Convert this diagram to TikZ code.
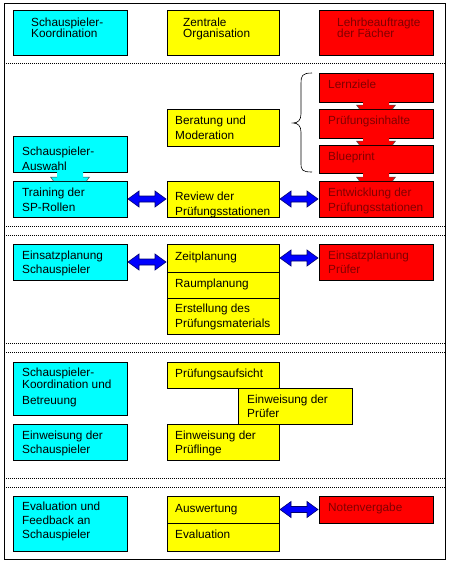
\documentclass[tikz,border=0pt]{standalone}
\usepackage{fontspec}
\setmainfont{Liberation Sans}
\usetikzlibrary{calc}
\definecolor{cy}{RGB}{0,255,255}
\definecolor{ye}{RGB}{255,255,0}
\definecolor{rd}{RGB}{255,0,0}
\definecolor{dred}{RGB}{128,0,0}
\definecolor{bl}{RGB}{0,0,255}
\definecolor{nav}{RGB}{0,0,110}
\newcommand\mybox[6]{\node[box,fill=#2,minimum width={(#5-#3)*1pt},minimum height={(#6-#4)*1pt}] (#1) at (#3,#4) {};}
\newcommand\dblarrow[2]{%
 \draw[barrow] ($(#1.east)+(1,0)$) -- ++(11,-8) -- ++(0,5) -- ($(#2.west |- #1.east)+(-12,-3)$) -- ++(0,-5) -- ($(#2.west |- #1.east)+(-1,0)$) -- ++(-11,8) -- ++(0,-5) -- ($(#1.east)+(12,3)$) -- ++(0,5) -- cycle;}
\newcommand\notch[3]{%
 \fill[#3] ($(#1.south)+(-13,-0.6)$) -- ($(#2.north)+(-13,-4)$) -- ($(#2.north)+(-19.5,-4)$) -- ($(#2.north)+(-16.5,0)$) -- ($(#2.north)+(16.5,0)$) -- ($(#2.north)+(19.5,-4)$) -- ($(#2.north)+(13,-4)$) -- ($(#1.south)+(13,-0.6)$) -- cycle;
 \draw[notchline] ($(#2.north)+(-13,-4)$) -- ($(#2.north)+(-19.5,-4)$) -- ($(#2.north)+(-16.5,0)$);
 \draw[notchline] ($(#2.north)+(13,-4)$) -- ($(#2.north)+(19.5,-4)$) -- ($(#2.north)+(16.5,0)$);}
\begin{document}
\begin{tikzpicture}[x=1pt,y=-1pt,
 box/.style={draw=black,line width=0.8pt,inner sep=0pt,outer sep=0pt,anchor=north west,rectangle},
 txt/.style={anchor=north west,inner sep=0pt,align=left,font=\fontsize{11.8}{15}\selectfont},
 rtxt/.style={txt,text=dred},
 dotsep/.style={line width=0.8pt,dash pattern=on 0.8pt off 1.2pt},
 barrow/.style={fill=bl,draw=nav,line width=0.6pt,line join=miter},
 notchline/.style={draw=black!70,line width=0.5pt},
 bracestyle/.style={draw=black,line width=0.6pt}]
\useasboundingbox (0,0) rectangle (453,566);
\draw[line width=0.8pt] (4,3) rectangle (445,559);
\foreach \yy in {63,226,235,343,352,478,487} \draw[dotsep] (4,\yy) -- (445,\yy);
% header
\mybox{hk}{cy}{13}{10}{127}{55}
\mybox{hz}{ye}{167}{10}{279}{55}
\mybox{hl}{rd}{319}{10}{433}{55}
% section 2
\mybox{lz}{rd}{319}{73}{433}{102}
\mybox{pi}{rd}{319}{109}{433}{138}
\mybox{bp}{rd}{319}{145}{433}{173}
\mybox{ew}{rd}{319}{181}{433}{217}
\mybox{bm}{ye}{167}{109}{279}{146}
\mybox{sa}{cy}{13}{136}{127}{172}
\mybox{tr}{cy}{13}{181}{127}{217}
\mybox{rv}{ye}{167}{181}{279}{217}
% section 3
\mybox{es}{cy}{13}{244}{127}{280}
\mybox{zp}{ye}{167}{244}{279}{272}
\mybox{rp}{ye}{167}{272}{279}{298}
\mybox{ep}{ye}{167}{298}{279}{334}
\mybox{epr}{rd}{319}{244}{433}{280}
% section 4
\mybox{sk}{cy}{13}{362}{127}{415}
\mybox{esch}{cy}{13}{424}{127}{460}
\mybox{pa}{ye}{167}{362}{279}{388}
\mybox{epf}{ye}{238}{388}{352}{424}
\mybox{epl}{ye}{167}{424}{279}{460}
% section 5
\mybox{ef}{cy}{13}{496}{127}{551}
\mybox{aw}{ye}{167}{496}{279}{523}
\mybox{ev}{ye}{167}{523}{279}{551}
\mybox{nv}{rd}{319}{496}{433}{523}
% connectors
\notch{lz}{pi}{rd}
\notch{pi}{bp}{rd}
\notch{bp}{ew}{rd}
\notch{sa}{tr}{cy}
\dblarrow{tr}{rv}
\dblarrow{rv}{ew}
\dblarrow{es}{zp}
\dblarrow{zp}{epr}
\dblarrow{aw}{nv}
% brace
\draw[bracestyle] (312,73) .. controls (302,73) and (301,76) .. (301,83) -- (301,114) .. controls (301,120) and (298,123) .. (293,123) .. controls (298,123) and (301,126) .. (301,132) -- (301,163) .. controls (301,170) and (302,172) .. (312,172);
% texts
\node[txt,font=\fontsize{11.8}{11.6}\selectfont] (hk-t) at (31,17.4) {Schauspieler-\\Koordination};
\node[txt,font=\fontsize{11.8}{11.6}\selectfont] (hz-t) at (183,17.4) {Zentrale\\Organisation};
\node[rtxt,font=\fontsize{11.8}{11.6}\selectfont] (hl-t) at (337,17.4) {Lehrbeauftragte\\der Fächer};
\node[rtxt] (lz-t) at (328,79.7) {Lernziele};
\node[rtxt] (pi-t) at (328,115.7) {Prüfungsinhalte};
\node[rtxt] (bp-t) at (328,151.7) {Blueprint};
\node[rtxt] (ew-t) at (328,187.7) {Entwicklung der\\Prüfungsstationen};
\node[txt] (bm-t) at (175,115.7) {Beratung und\\Moderation};
\node[txt] (sa-t) at (22,146.7) {Schauspieler-\\Auswahl};
\node[txt] (tr-t) at (22,187.7) {Training der\\SP-Rollen};
\node[txt] (rv-t) at (175,191.7) {Review der\\Prüfungsstationen};
\node[txt,font=\fontsize{11.8}{14}\selectfont] (es-t) at (22,250.7) {Einsatzplanung\\Schauspieler};
\node[txt] (zp-t) at (175,251.7) {Zeitplanung};
\node[txt] (rp-t) at (175,278.7) {Raumplanung};
\node[txt] (ep-t) at (175,303.7) {Erstellung des\\Prüfungsmaterials};
\node[rtxt,font=\fontsize{11.8}{14}\selectfont] (epr-t) at (328,250.7) {Einsatzplanung\\Prüfer};
\node[txt,font=\fontsize{11.8}{12}\selectfont] (sk-t) at (22,367.7) {Schauspieler-\\Koordination und\\[4pt]Betreuung};
\node[txt,font=\fontsize{11.8}{14}\selectfont] (esch-t) at (22,430.7) {Einweisung der\\Schauspieler};
\node[txt] (pa-t) at (175,368.7) {Prüfungsaufsicht};
\node[txt,font=\fontsize{11.8}{14}\selectfont] (epf-t) at (247,394.7) {Einweisung der\\Prüfer};
\node[txt,font=\fontsize{11.8}{14}\selectfont] (epl-t) at (175,430.7) {Einweisung der\\Prüflinge};
\node[txt,font=\fontsize{11.8}{14}\selectfont] (ef-t) at (22,501.7) {Evaluation und\\Feedback an\\Schauspieler};
\node[txt] (aw-t) at (175,503.7) {Auswertung};
\node[txt] (ev-t) at (175,529.7) {Evaluation};
\node[rtxt] (nv-t) at (328,502.7) {Notenvergabe};
\end{tikzpicture}
\end{document}
